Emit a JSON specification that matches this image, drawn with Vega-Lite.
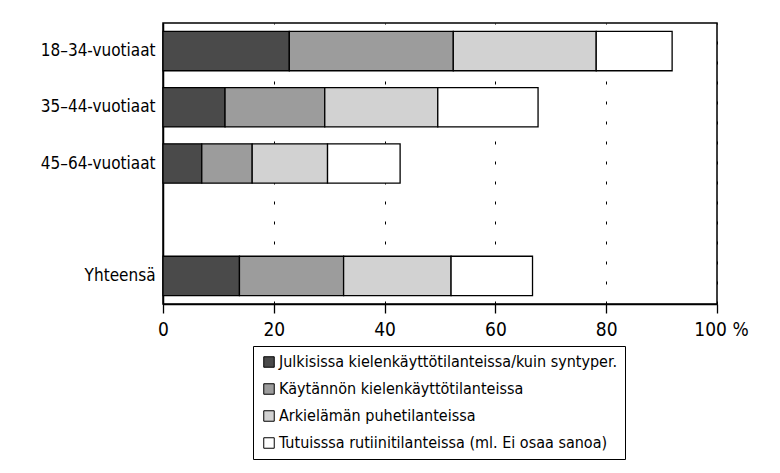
{
  "$schema": "https://vega.github.io/schema/vega-lite/v6.json",
  "width": 554,
  "height": 281,
  "autosize": {"type": "none"},
  "padding": {"left": 163, "top": 23, "right": 63, "bottom": 169},
  "background": "white",
  "data": {
    "values": [
      {"ryhma": "18–34-vuotiaat", "tilanne": "Julkisissa kielenkäyttötilanteissa/kuin syntyper.", "k": 1, "osuus": 22.8},
      {"ryhma": "18–34-vuotiaat", "tilanne": "Käytännön kielenkäyttötilanteissa", "k": 2, "osuus": 29.6},
      {"ryhma": "18–34-vuotiaat", "tilanne": "Arkielämän puhetilanteissa", "k": 3, "osuus": 25.8},
      {"ryhma": "18–34-vuotiaat", "tilanne": "Tutuisssa rutiinitilanteissa (ml. Ei osaa sanoa)", "k": 4, "osuus": 13.7},
      {"ryhma": "35–44-vuotiaat", "tilanne": "Julkisissa kielenkäyttötilanteissa/kuin syntyper.", "k": 1, "osuus": 11.2},
      {"ryhma": "35–44-vuotiaat", "tilanne": "Käytännön kielenkäyttötilanteissa", "k": 2, "osuus": 18.0},
      {"ryhma": "35–44-vuotiaat", "tilanne": "Arkielämän puhetilanteissa", "k": 3, "osuus": 20.4},
      {"ryhma": "35–44-vuotiaat", "tilanne": "Tutuisssa rutiinitilanteissa (ml. Ei osaa sanoa)", "k": 4, "osuus": 18.1},
      {"ryhma": "45–64-vuotiaat", "tilanne": "Julkisissa kielenkäyttötilanteissa/kuin syntyper.", "k": 1, "osuus": 7.0},
      {"ryhma": "45–64-vuotiaat", "tilanne": "Käytännön kielenkäyttötilanteissa", "k": 2, "osuus": 9.1},
      {"ryhma": "45–64-vuotiaat", "tilanne": "Arkielämän puhetilanteissa", "k": 3, "osuus": 13.6},
      {"ryhma": "45–64-vuotiaat", "tilanne": "Tutuisssa rutiinitilanteissa (ml. Ei osaa sanoa)", "k": 4, "osuus": 13.1},
      {"ryhma": "Yhteensä", "tilanne": "Julkisissa kielenkäyttötilanteissa/kuin syntyper.", "k": 1, "osuus": 13.8},
      {"ryhma": "Yhteensä", "tilanne": "Käytännön kielenkäyttötilanteissa", "k": 2, "osuus": 18.8},
      {"ryhma": "Yhteensä", "tilanne": "Arkielämän puhetilanteissa", "k": 3, "osuus": 19.4},
      {"ryhma": "Yhteensä", "tilanne": "Tutuisssa rutiinitilanteissa (ml. Ei osaa sanoa)", "k": 4, "osuus": 14.7}
    ]
  },
  "mark": {"type": "bar", "stroke": "black", "strokeWidth": 1.3},
  "encoding": {
    "y": {
      "field": "ryhma",
      "type": "nominal",
      "scale": {
        "domain": ["18–34-vuotiaat", "35–44-vuotiaat", "45–64-vuotiaat", " ", "Yhteensä"],
        "paddingInner": 0.3,
        "paddingOuter": 0.15
      },
      "axis": {
        "title": null,
        "ticks": false,
        "domainColor": "black",
        "domainWidth": 1.5,
        "labelPadding": 8,
        "labelFontSize": 17,
        "labelColor": "black",
        "labelFont": "Liberation Sans Narrow, DejaVu Sans Condensed, Roboto Condensed, sans-serif"
      }
    },
    "x": {
      "field": "osuus",
      "type": "quantitative",
      "stack": "zero",
      "scale": {"domain": [0, 100], "nice": false},
      "axis": {
        "title": null,
        "values": [0, 20, 40, 60, 80, 100],
        "labelExpr": "datum.value == 100 ? '100 %' : datum.label",
        "labelFlush": false,
        "labelOffset": {"condition": {"test": "datum.value == 100", "value": 4}, "value": 0},
        "grid": true,
        "gridColor": "black",
        "gridDash": [3, 17],
        "gridWidth": 1,
        "tickSize": 9,
        "tickColor": "black",
        "tickWidth": 1.3,
        "domainColor": "black",
        "domainWidth": 1.5,
        "labelPadding": 7,
        "labelFontSize": 19,
        "labelColor": "black",
        "labelFont": "Liberation Sans Narrow, DejaVu Sans Condensed, Roboto Condensed, sans-serif"
      }
    },
    "color": {
      "field": "tilanne",
      "type": "nominal",
      "scale": {
        "domain": [
          "Julkisissa kielenkäyttötilanteissa/kuin syntyper.",
          "Käytännön kielenkäyttötilanteissa",
          "Arkielämän puhetilanteissa",
          "Tutuisssa rutiinitilanteissa (ml. Ei osaa sanoa)"
        ],
        "range": ["#4a4a4a", "#9c9c9c", "#d2d2d2", "#ffffff"]
      },
      "legend": {
        "title": null,
        "orient": "none",
        "legendX": 90,
        "legendY": 323,
        "direction": "vertical",
        "strokeColor": "black",
        "fillColor": "white",
        "padding": 8,
        "symbolType": "square",
        "symbolSize": 110,
        "symbolStrokeColor": "black",
        "symbolStrokeWidth": 1,
        "symbolOpacity": 1,
        "labelOffset": 2,
        "labelFontSize": 16,
        "labelColor": "black",
        "labelFont": "Liberation Sans Narrow, DejaVu Sans Condensed, Roboto Condensed, sans-serif",
        "labelLimit": 500,
        "rowPadding": 11
      }
    },
    "order": {"field": "k", "type": "quantitative"}
  },
  "config": {
    "view": {"stroke": "black", "strokeWidth": 1.5}
  }
}
